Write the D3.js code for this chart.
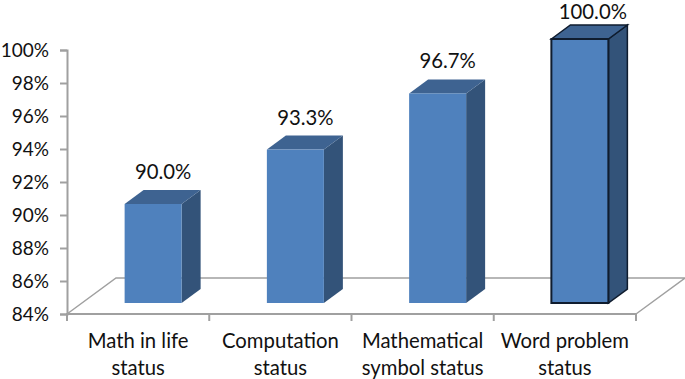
<!DOCTYPE html>
<html>
<head>
<meta charset="utf-8">
<script src="https://cdn.jsdelivr.net/npm/d3@7"></script>
<style>
  html, body { margin: 0; padding: 0; background: #fff; }
  text { font-family: Lato, sans-serif; fill: #111; }
</style>
</head>
<body>
<div id="chart"></div>
<script>
// Chart values
const categories = [
  ["Math in life", "status"],
  ["Computation", "status"],
  ["Mathematical", "symbol status"],
  ["Word problem", "status"]
];
const values = [90.0, 93.3, 96.7, 100.0];
const yTicks = [84, 86, 88, 90, 92, 94, 96, 98, 100];
const outlined = [false, false, false, true];

const width = 685, height = 379;
const svg = d3.select("#chart").append("svg")
  .attr("width", width)
  .attr("height", height)
  .style("display", "block");

const x = d3.scaleBand().domain(d3.range(categories.length)).range([67, 636]);
const y = d3.scaleLinear().domain([84, 100]).range([314, 50]);

// 3D look: depth of the floor and of each bar
const floorDx = 49, floorDy = -36;
const barDx = 19, barDy = -14;
const barW = 57, barShift = 15, frontLift = -11;

const axisColor = "#a0a0a0";
const fontSize = 20.3;

// Floor
svg.append("path")
  .attr("d", d3.line()([
    [67, y(84)],
    [67 + floorDx, y(84) + floorDy],
    [636 + floorDx, y(84) + floorDy],
    [636, y(84)]
  ]))
  .attr("fill", "none")
  .attr("stroke", axisColor)
  .attr("stroke-width", 1.5);

// Y axis
const yAxis = d3.axisLeft(y)
  .tickValues(yTicks)
  .tickFormat(d => d + "%")
  .tickSize(7)
  .tickPadding(11);
const gy = svg.append("g").attr("transform", "translate(67,0)").call(yAxis);
gy.selectAll("path, line").attr("stroke", axisColor).attr("stroke-width", 2);
gy.selectAll("text").attr("font-size", 19).style("font-family", "Lato, sans-serif");

// X axis
const xEdges = d3.range(categories.length + 1).map(i => 67 + i * x.bandwidth());
const gx = svg.append("g");
gx.append("line")
  .attr("x1", 66).attr("x2", 636)
  .attr("y1", y(84)).attr("y2", y(84))
  .attr("stroke", axisColor).attr("stroke-width", 2);
gx.selectAll("line.tick").data(xEdges).enter().append("line")
  .attr("class", "tick")
  .attr("x1", d => d).attr("x2", d => d)
  .attr("y1", y(84)).attr("y2", y(84) + 7)
  .attr("stroke", axisColor).attr("stroke-width", 2);

// Bars
const bars = svg.selectAll("g.bar").data(values).enter().append("g").attr("class", "bar");
const left = (d, i) => x(i) + x.bandwidth() / 2 + barShift - barW / 2;
const stroke = (d, i) => outlined[i] ? "#0f1c2e" : "none";

bars.append("path") // side
  .attr("d", (d, i) => {
    const r = left(d, i) + barW, t = y(d) + frontLift, b = y(84) + frontLift;
    return d3.line()([[r, t], [r + barDx, t + barDy], [r + barDx, b + barDy], [r, b]]) + "Z";
  })
  .attr("fill", "#335379").attr("stroke", stroke).attr("stroke-width", 1.5);

bars.append("path") // top
  .attr("d", (d, i) => {
    const l = left(d, i), t = y(d) + frontLift;
    return d3.line()([[l, t], [l + barDx, t + barDy], [l + barW + barDx, t + barDy], [l + barW, t]]) + "Z";
  })
  .attr("fill", "#3e6391").attr("stroke", stroke).attr("stroke-width", 1.5);

bars.append("rect") // front
  .attr("x", left)
  .attr("y", d => y(d) + frontLift)
  .attr("width", barW)
  .attr("height", d => y(84) - y(d))
  .attr("fill", "#4f81bd").attr("stroke", stroke).attr("stroke-width", 2);

// Value labels, the top one sits just inside the page edge
bars.append("text")
  .attr("x", (d, i) => left(d, i) + barW / 2 + (outlined[i] ? 13 : 10))
  .attr("y", d => Math.max(y(d) + frontLift - 25, 19))
  .attr("text-anchor", "middle")
  .attr("font-size", fontSize)
  .text(d => d.toFixed(1) + "%");

// Category labels
const labels = svg.selectAll("text.cat").data(categories).enter().append("text")
  .attr("class", "cat")
  .attr("text-anchor", "middle")
  .attr("font-size", fontSize);
labels.selectAll("tspan").data((d, i) => d.map(s => ({ s, i }))).enter().append("tspan")
  .attr("x", d => x(d.i) + x.bandwidth() / 2)
  .attr("y", (d, j) => 348 + j * 27)
  .text(d => d.s);
</script>
</body>
</html>
